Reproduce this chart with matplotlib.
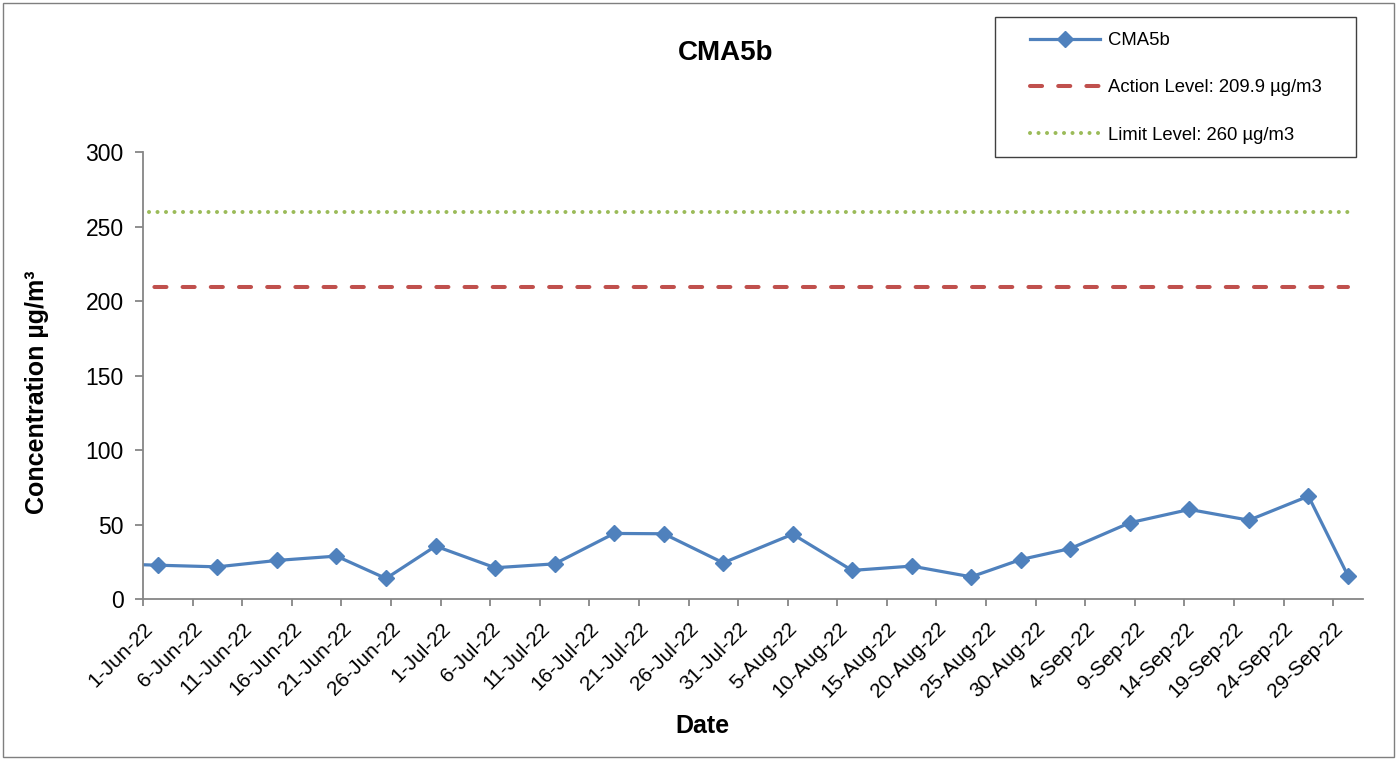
import matplotlib
matplotlib.use("Agg")
import matplotlib.pyplot as plt
import matplotlib.transforms as mtransforms
from matplotlib.patches import Rectangle
import pandas as pd

plt.rcParams['font.family'] = ['Liberation Sans', 'DejaVu Sans']

# Sampling dates and measured concentrations (first point lies before the axis start)
sample_dates = ['2022-05-27', '2022-06-02', '2022-06-08', '2022-06-14', '2022-06-20',
                '2022-06-25', '2022-06-30', '2022-07-06', '2022-07-12', '2022-07-18',
                '2022-07-23', '2022-07-29', '2022-08-05', '2022-08-11', '2022-08-17',
                '2022-08-23', '2022-08-28', '2022-09-02', '2022-09-08', '2022-09-14',
                '2022-09-20', '2022-09-26', '2022-09-30']
cma5b = [24.2, 23.0, 21.9, 26.2, 29.1, 14.1, 35.8, 21.3, 23.9, 44.3,
         44.1, 24.6, 43.8, 19.5, 22.4, 15.2, 26.8, 34.2, 51.5, 60.4,
         53.2, 69.3, 15.7]
action_level = 209.9
limit_level = 260

tick_dates = pd.date_range('2022-06-01', '2022-09-29', freq='5D')
tick_labels = [f"{d.day}-{d.strftime('%b-%y')}" for d in tick_dates]
y_ticks = [0, 50, 100, 150, 200, 250, 300]

# points sit in the middle of their day slot
x = pd.to_datetime(sample_dates) + pd.Timedelta(hours=12)

fig = plt.figure(figsize=(13.97, 7.6), dpi=100)
ax = fig.add_axes([143 / 1397, 0.2112, (1363 - 143) / 1397, 0.7996 - 0.2112])

ax.plot(x, cma5b, color='#4F81BD', lw=2.3, marker='D', markersize=8.5,
        label='CMA5b')
ax.plot(x, [action_level] * len(x), color='#C0504D', lw=2.9,
        linestyle=(0, (3, 4)), dash_capstyle='round',
        label='Action Level: 209.9 µg/m3')
ax.plot(x, [limit_level] * len(x), color='#9BBB59', lw=2.9,
        linestyle=(0, (0.01, 2.1)), dash_capstyle='round',
        label='Limit Level: 260 µg/m3')

ax.set_xlim(pd.Timestamp('2022-06-01'), pd.Timestamp('2022-10-02'))
ax.set_ylim(0, 300)
ax.set_yticks(y_ticks)
ax.set_xticks(tick_dates)
ax.set_xticklabels(tick_labels, rotation=45, ha='right', va='top',
                   rotation_mode='anchor', fontsize=15)
shift = mtransforms.ScaledTranslation(7 / 100, 0, fig.dpi_scale_trans)
for lbl in ax.get_xticklabels():
    lbl.set_transform(lbl.get_transform() + shift)

for side in ['top', 'right']:
    ax.spines[side].set_visible(False)
for side in ['left', 'bottom']:
    ax.spines[side].set_color('#868686')
    ax.spines[side].set_linewidth(1.3)
ax.tick_params(axis='y', direction='out', length=6, width=1.3, color='#868686',
               labelsize=16.5, pad=8)
ax.tick_params(axis='x', direction='out', length=5, width=1.3, color='#868686',
               pad=9)

fig.text(726 / 1397, 1 - 53 / 760, 'CMA5b', fontsize=20, fontweight='bold',
         ha='center', va='center')
fig.text(37 / 1397, 1 - 392 / 760, 'Concentration µg/m³', fontsize=18,
         fontweight='bold', rotation=90, ha='center', va='center')
fig.text(702 / 1397, 1 - 726 / 760, 'Date', fontsize=18, fontweight='bold',
         ha='center', va='center')

# legend box drawn separately so the padding can match
fig.patches.append(Rectangle((995 / 1397, 1 - 157 / 760), 361 / 1397, 140 / 760,
                             transform=fig.transFigure, fill=False,
                             edgecolor='#404040', lw=1))
fig.legend(loc='upper left', bbox_to_anchor=(1030 / 1397, 1 - 32 / 760),
           frameon=False, borderpad=0, borderaxespad=0, fontsize=13.3,
           handlelength=3.8, handletextpad=0.4, labelspacing=1.65)

# outer chart border
fig.patches.append(Rectangle((3 / 1397, 3 / 760), 1391 / 1397, 754 / 760,
                             transform=fig.transFigure, fill=False,
                             edgecolor='#7f7f7f', lw=1))

fig.savefig('out.png', dpi=100)
